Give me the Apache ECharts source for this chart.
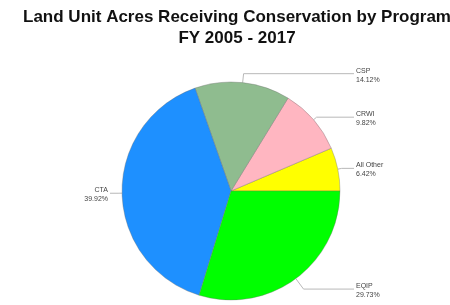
<!DOCTYPE html>
<html>
<head>
<meta charset="utf-8">
<script src="https://cdn.jsdelivr.net/npm/echarts@6/dist/echarts.min.js"></script>
<style>
  html, body { margin: 0; padding: 0; background: #fff; }
  #chart { width: 450px; height: 305px; }
</style>
</head>
<body>
<div id="chart"></div>
<script>
// 数据：从 3 点钟方向开始逆时针排列
const programs = ['All Other', 'CRWI', 'CSP', 'CTA', 'EQIP'];
const shares = [6.42, 9.82, 14.12, 39.92, 29.73];
const colors = ['#ffff00', '#ffb6c1', '#8fbc8f', '#1e90ff', '#00ff00'];

// 引导线第一段长度（样式）
const lineLen = { 'All Other': 4, 'CRWI': 4, 'CSP': 9, 'CTA': 4, 'EQIP': 13 };

const chart = echarts.init(document.getElementById('chart'), null, { renderer: 'canvas' });

const pieData = programs.map((name, i) => {
  const item = {
    name: name,
    value: shares[i],
    itemStyle: { color: colors[i] },
    labelLine: { length: lineLen[name] }
  };
  // 左侧标签右对齐
  if (name === 'CTA') {
    item.label = {
      edgeDistance: 76,
      rich: { t: { width: 32, align: 'right', fontSize: 7, lineHeight: 9, color: '#444' } }
    };
  }
  return item;
});

chart.setOption({
  animation: false,
  title: {
    text: 'Land Unit Acres Receiving Conservation by Program\nFY 2005 - 2017',
    left: 232,
    top: 2,
    textAlign: 'center',
    textStyle: {
      fontFamily: 'Liberation Sans, Arial, sans-serif',
      fontWeight: 'bold',
      fontSize: 17,
      lineHeight: 21,
      color: '#111'
    }
  },
  series: [
    {
      type: 'pie',
      center: [231, 191],
      radius: 109,
      startAngle: 0,
      clockwise: false,
      data: pieData,
      itemStyle: {
        borderColor: 'rgba(110,110,110,0.6)',
        borderWidth: 0.6
      },
      label: {
        show: true,
        position: 'outside',
        alignTo: 'edge',
        edgeDistance: 62,
        formatter: (p) => '{t|' + p.name + '}\n{t|' + p.value.toFixed(2) + '%}',
        fontFamily: 'Liberation Sans, Arial, sans-serif',
        fontSize: 7,
        lineHeight: 9,
        color: '#444',
        padding: [3, 0, 0, 0],
        distanceToLabelLine: 2,
        rich: {
          t: { width: 32, align: 'left', fontSize: 7, lineHeight: 9, color: '#444' }
        }
      },
      labelLine: {
        show: true,
        length: 8,
        length2: 6,
        lineStyle: { color: '#b8b8b8', width: 1 }
      }
    }
  ]
});
</script>
</body>
</html>
